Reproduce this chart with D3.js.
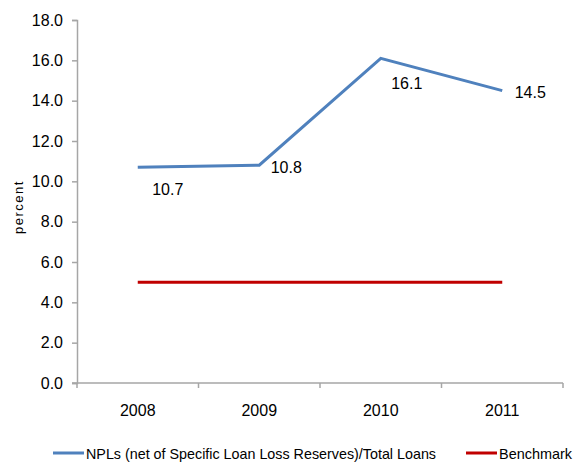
<!DOCTYPE html>
<html>
<head>
<meta charset="utf-8">
<script src="https://cdn.jsdelivr.net/npm/d3@7"></script>
<style>
  html, body { margin: 0; padding: 0; background: #fff; }
  svg { display: block; }
  text { font-family: "Liberation Sans", Arial, sans-serif; fill: #000; }
</style>
</head>
<body>
<script>
const categories = ["2008", "2009", "2010", "2011"];
const nplValues = [10.7, 10.8, 16.1, 14.5];
const benchmarkValues = [5, 5, 5, 5];
const yTicks = [0, 2, 4, 6, 8, 10, 12, 14, 16, 18];
const seriesNames = ["NPLs (net of Specific Loan Loss Reserves)/Total Loans", "Benchmark"];
const labelOffsets = [[30, 22], [27, 2], [26, 25], [28, 2]];

const W = 575, H = 462;
const margin = { left: 77, right: 12, top: 20, bottom: 79 };

const svg = d3.select("body").append("svg").attr("width", W).attr("height", H);

const x = d3.scaleBand().domain(categories).range([margin.left, W - margin.right]).padding(0);
const y = d3.scaleLinear().domain([0, 18]).range([H - margin.bottom, margin.top]);

const axisColor = "#a6a6a6";
const fs = 16;

// Y axis
const yAxis = svg.append("g").attr("transform", `translate(${margin.left},0)`)
  .call(d3.axisLeft(y).tickValues(yTicks).tickSize(5).tickPadding(9).tickFormat(d3.format(".1f")));
yAxis.select(".domain").attr("stroke", axisColor).attr("stroke-width", 1.5);
yAxis.selectAll(".tick line").attr("stroke", axisColor).attr("stroke-width", 1.5);
yAxis.selectAll(".tick text").attr("font-size", fs).attr("fill", "#000");

// X axis
const xAxis = svg.append("g").attr("transform", `translate(0,${y(0)})`)
  .call(d3.axisBottom(x).tickSize(0).tickPadding(22));
xAxis.select(".domain").attr("stroke", axisColor).attr("stroke-width", 1.5)
  .attr("d", `M${margin.left - 5},0H${W - margin.right}`);
xAxis.selectAll(".tick text").attr("font-size", fs).attr("fill", "#000");
// boundary ticks between categories
const bounds = categories.map(c => x(c)).concat([x(categories[categories.length - 1]) + x.bandwidth()]);
svg.append("g").selectAll("line").data(bounds).join("line")
  .attr("x1", d => d).attr("x2", d => d)
  .attr("y1", y(0)).attr("y2", y(0) + 5)
  .attr("stroke", axisColor).attr("stroke-width", 1.5);

const cx = c => x(c) + x.bandwidth() / 2;

// Benchmark line
svg.append("path")
  .datum(benchmarkValues)
  .attr("fill", "none").attr("stroke", "#c00000").attr("stroke-width", 3)
  .attr("d", d3.line().x((d, i) => cx(categories[i])).y(d => y(d)));

// NPL line
svg.append("path")
  .datum(nplValues)
  .attr("fill", "none").attr("stroke", "#4f81bd").attr("stroke-width", 3)
  .attr("d", d3.line().x((d, i) => cx(categories[i])).y(d => y(d)));

// Data labels
svg.append("g").selectAll("text").data(nplValues).join("text")
  .attr("x", (d, i) => cx(categories[i]) + labelOffsets[i][0])
  .attr("y", (d, i) => y(d) + labelOffsets[i][1])
  .attr("text-anchor", "middle").attr("dominant-baseline", "central")
  .attr("font-size", fs)
  .text(d => d3.format(".1f")(d));

// Y label
svg.append("text")
  .attr("transform", `translate(18,207) rotate(-90)`)
  .attr("text-anchor", "middle").attr("dominant-baseline", "central")
  .attr("font-size", 13).attr("letter-spacing", 1.5)
  .text("percent");

// Legend
const legendY = 453;
const legend = [
  { name: seriesNames[0], color: "#4f81bd", x0: 53, w: 350 },
  { name: seriesNames[1], color: "#c00000", x0: 466, w: 73 }
];
const lg = svg.append("g").selectAll("g").data(legend).join("g");
lg.append("line")
  .attr("x1", d => d.x0).attr("x2", d => d.x0 + 31)
  .attr("y1", legendY).attr("y2", legendY)
  .attr("stroke", d => d.color).attr("stroke-width", 3);
lg.append("text")
  .attr("x", d => d.x0 + 33).attr("y", legendY)
  .attr("dominant-baseline", "central")
  .attr("font-size", 15)
  .attr("textLength", d => d.w).attr("lengthAdjust", "spacingAndGlyphs")
  .text(d => d.name);
</script>
</body>
</html>
